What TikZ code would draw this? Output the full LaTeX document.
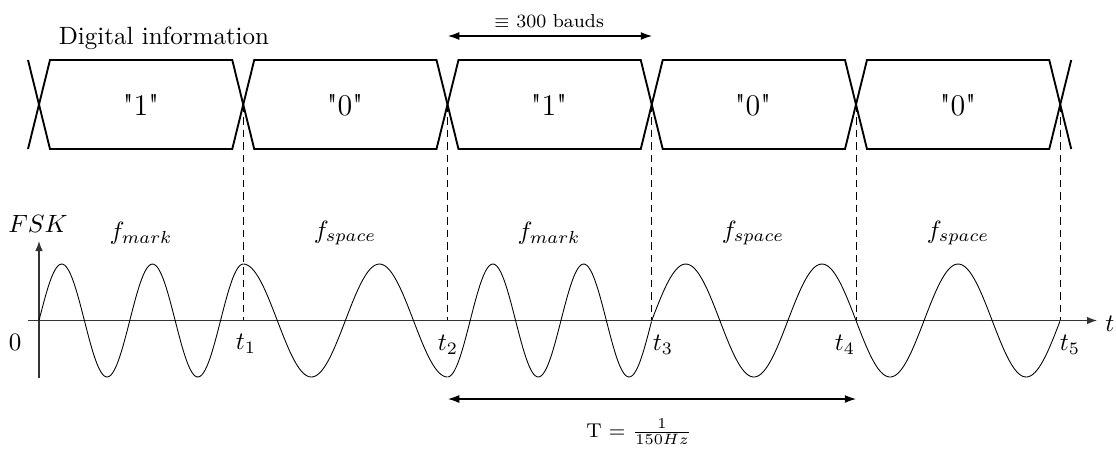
\documentclass[tikz,border=0pt]{standalone}
\usetikzlibrary{arrows.meta}
\begin{document}
\begin{tikzpicture}[x=0.4pt,y=-0.4pt,
  bitline/.style={line width=0.75pt,line join=miter},
  wave/.style={line width=0.35pt},
  axisline/.style={line width=0.45pt,black!80,-{Latex[length=4pt,width=3pt]}},
  guide/.style={line width=0.4pt,dash pattern=on 3pt off 2pt},
  dimarrow/.style={line width=0.45pt,{Latex[length=4.5pt,width=3.2pt]}-{Latex[length=4.5pt,width=3.2pt]}},
  lbl/.style={inner sep=0pt}]
\useasboundingbox (0,0) rectangle (1116,449);
% crossing points
\foreach \k in {0,...,5}{
  \coordinate (c\k) at ({39+204.25*\k},104.5);
  \coordinate (a\k) at ({39+204.25*\k},320.5);
}
% bit hexagons
\foreach \k [evaluate=\k as \xa using {39+204.25*\k}, evaluate=\k as \xb using {39+204.25*(\k+1)}] in {0,...,4}{
  \draw[bitline] (\xa,104.5) -- (\xa+11,60) -- (\xb-11,60) -- (\xb,104.5) -- (\xb-11,149) -- (\xa+11,149) -- cycle;
}
\draw[bitline] (28,60) -- (c0) -- (28,149);
\draw[bitline] (1071.25,60) -- (c5) -- (1071.25,149);
% bit labels
\node[lbl,font=\large] (b1) at (141,105) {\textquotedbl1\textquotedbl};
\node[lbl,font=\large] (b2) at (345,105) {\textquotedbl0\textquotedbl};
\node[lbl,font=\large] (b3) at (549,105) {\textquotedbl1\textquotedbl};
\node[lbl,font=\large] (b4) at (753,105) {\textquotedbl0\textquotedbl};
\node[lbl,font=\large] (b5) at (958,105) {\textquotedbl0\textquotedbl};
\node[lbl] (title) at (164,38) {Digital information};
% bauds arrow
\draw[dimarrow] (448,36) -- (652,36);
\node[lbl,font=\fontsize{7.5}{9}\selectfont] (bauds) at (549,21) {$\equiv$ 300 bauds};
% guides
\foreach \k in {1,...,5}{ \draw[guide] (c\k) -- (a\k); }
% axes
\coordinate (o) at (39,320.5);
\draw[axisline] (39,378) -- (39,241);
\draw[axisline] (28,320.5) -- (1097,320.5);
\node[lbl] (tl) at (1110,324) {$t$};
\node[lbl] (zero) at (15,342) {0};
\node[lbl] (fsk) at (38,224) {$FSK$};
% frequency labels
\node[lbl] (f1) at (141,233) {$f_{mark}$};
\node[lbl] (f2) at (345,233) {$f_{space}$};
\node[lbl] (f3) at (549,233) {$f_{mark}$};
\node[lbl] (f4) at (753,233) {$f_{space}$};
\node[lbl] (f5) at (958,233) {$f_{space}$};
% time labels
\node[lbl] (t1) at (246,344) {$t_1$};
\node[lbl] (t2) at (448,345) {$t_2$};
\node[lbl] (t3) at (663,345) {$t_3$};
\node[lbl] (t4) at (845,345) {$t_4$};
\node[lbl] (t5) at (1070,345) {$t_5$};
% waveform
\draw[wave] plot[domain=0:1,samples=120,smooth] ({39+204.25*\x},{320.5-56.5*sin(810*\x)});
\draw[wave] plot[domain=0:1,samples=100,smooth] ({243.25+204.25*\x},{320.5-56.5*sin(90+540*\x)});
\draw[wave] plot[domain=0:1,samples=120,smooth] ({447.5+204.25*\x},{320.5-56.5*sin(270+810*\x)});
\draw[wave] plot[domain=0:1,samples=100,smooth] ({651.75+204.25*\x},{320.5-56.5*sin(540*\x)});
\draw[wave] plot[domain=0:1,samples=100,smooth] ({856+204.25*\x},{320.5-56.5*sin(180+540*\x)});
% period arrow
\coordinate (p1) at (448,399);
\coordinate (p2) at (856,399);
\draw[dimarrow] (p1) -- (p2);
\node[lbl,font=\footnotesize] (per) at (639,432) {T = $\frac{1}{150Hz}$};
\end{tikzpicture}
\end{document}
